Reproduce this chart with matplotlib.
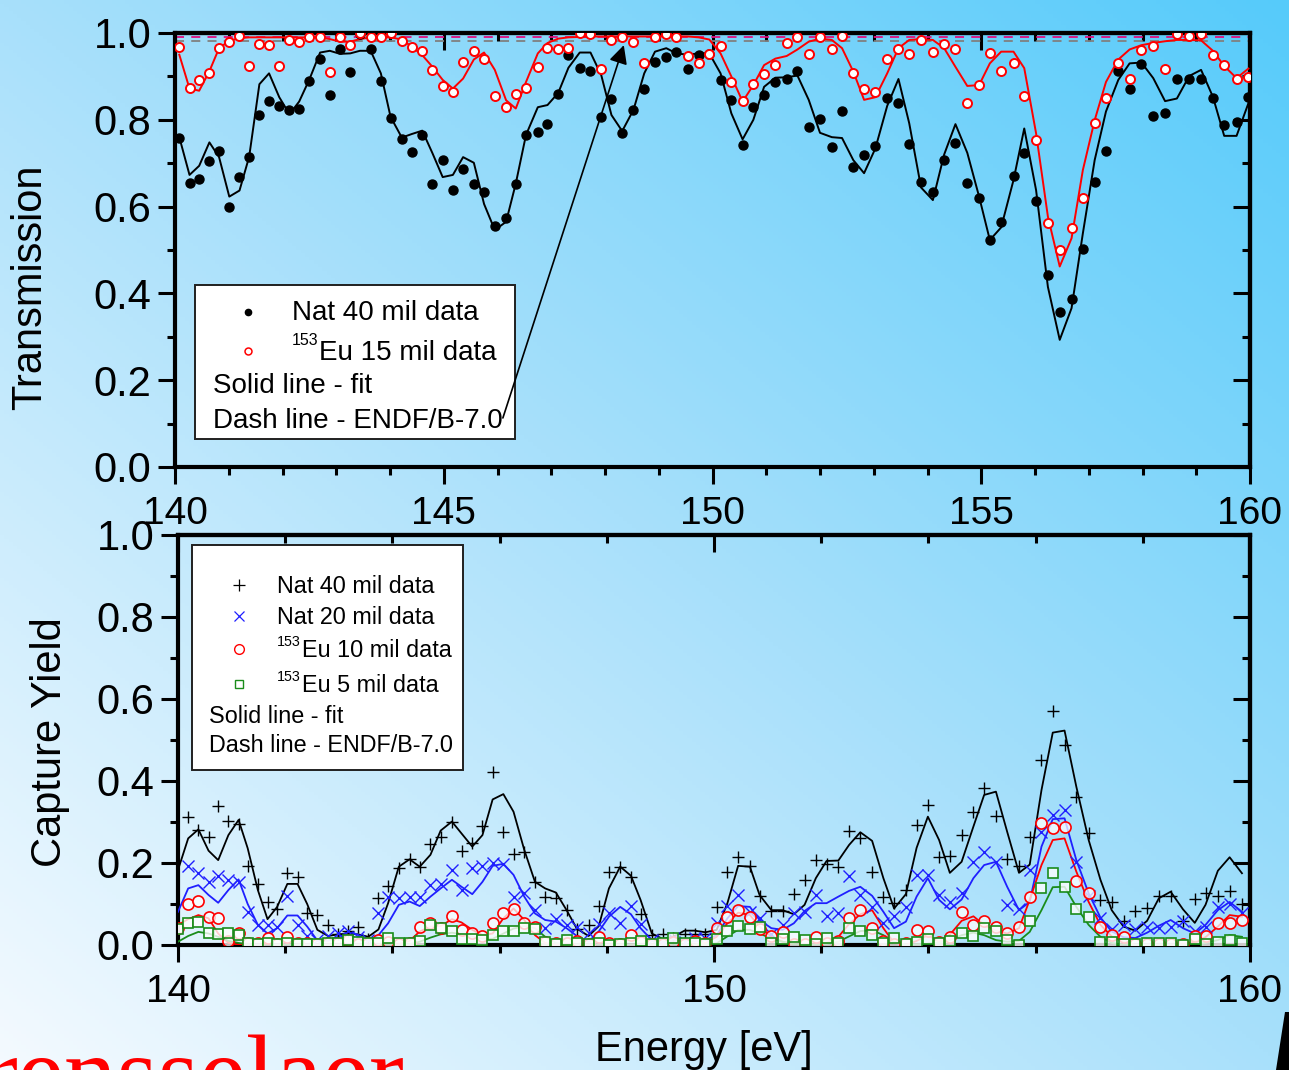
import numpy as np
import matplotlib.pyplot as plt
from matplotlib.colors import LinearSegmentedColormap
from matplotlib.patches import Rectangle, Polygon
from matplotlib.lines import Line2D
from matplotlib.ticker import MultipleLocator

W, H = 1289, 1070
FONT = ["Liberation Sans", "DejaVu Sans"]
plt.rcParams["font.family"] = FONT

# ---------------- transmission (top panel) ----------------
e_trans = [140.08, 140.27, 140.45, 140.64, 140.82, 141.01, 141.20, 141.38, 141.57, 141.75,
           141.94, 142.13, 142.31, 142.50, 142.70, 142.88, 143.07, 143.26, 143.44, 143.64,
           143.83, 144.01, 144.22, 144.40, 144.60, 144.79, 144.98, 145.17, 145.36, 145.56,
           145.75, 145.95, 146.16, 146.34, 146.53, 146.75, 146.93, 147.13, 147.32, 147.53,
           147.73, 147.93, 148.12, 148.32, 148.53, 148.73, 148.93, 149.14, 149.33, 149.54,
           149.74, 149.94, 150.15, 150.35, 150.56, 150.76, 150.96, 151.17, 151.38, 151.58,
           151.79, 152.00, 152.22, 152.41, 152.62, 152.82, 153.03, 153.25, 153.46, 153.66,
           153.88, 154.10, 154.31, 154.52, 154.74, 154.96, 155.16, 155.37, 155.60, 155.80,
           156.02, 156.24, 156.46, 156.68, 156.89, 157.11, 157.32, 157.55, 157.76, 157.98,
           158.20, 158.42, 158.64, 158.87, 159.09, 159.31, 159.52, 159.75, 159.97]

t_nat40 = [0.757, 0.655, 0.663, 0.705, 0.728, 0.600, 0.668, 0.714, 0.810, 0.843,
           0.832, 0.823, 0.825, 0.889, 0.940, 0.856, 0.962, 0.910, 0.998, 0.963,
           0.889, 0.804, 0.755, 0.725, 0.766, 0.652, 0.707, 0.638, 0.686, 0.651,
           0.634, 0.555, 0.574, 0.651, 0.766, 0.773, 0.791, 0.859, 0.949, 0.920,
           0.913, 0.807, 0.848, 0.769, 0.822, 0.871, 0.933, 0.944, 0.956, 0.916,
           0.949, 0.951, 0.892, 0.846, 0.742, 0.829, 0.857, 0.886, 0.893, 0.913,
           0.784, 0.802, 0.737, 0.821, 0.691, 0.720, 0.740, 0.850, 0.839, 0.744,
           0.657, 0.634, 0.707, 0.746, 0.654, 0.619, 0.523, 0.565, 0.671, 0.724,
           0.614, 0.442, 0.357, 0.386, 0.502, 0.656, 0.729, 0.912, 0.870, 0.929,
           0.808, 0.816, 0.894, 0.895, 0.893, 0.850, 0.789, 0.794, 0.853]

t_nat40_fit = [0.760, 0.673, 0.694, 0.748, 0.714, 0.623, 0.637, 0.715, 0.882, 0.907,
               0.852, 0.813, 0.842, 0.893, 0.955, 0.959, 0.952, 0.953, 0.959, 0.959,
               0.907, 0.807, 0.759, 0.767, 0.775, 0.723, 0.668, 0.673, 0.714, 0.701,
               0.606, 0.546, 0.565, 0.653, 0.765, 0.829, 0.834, 0.862, 0.920, 0.955,
               0.955, 0.903, 0.811, 0.774, 0.823, 0.907, 0.957, 0.965, 0.953, 0.950,
               0.953, 0.953, 0.907, 0.815, 0.755, 0.800, 0.876, 0.897, 0.898, 0.902,
               0.846, 0.770, 0.760, 0.758, 0.707, 0.677, 0.734, 0.832, 0.894, 0.792,
               0.644, 0.615, 0.720, 0.790, 0.724, 0.623, 0.523, 0.552, 0.661, 0.780,
               0.638, 0.415, 0.293, 0.366, 0.538, 0.707, 0.819, 0.892, 0.930, 0.932,
               0.896, 0.843, 0.849, 0.901, 0.915, 0.853, 0.763, 0.763, 0.838]

t_eu15 = [0.968, 0.874, 0.892, 0.907, 0.965, 0.979, 0.992, 0.924, 0.974, 0.972,
          0.924, 0.985, 0.980, 0.990, 0.990, 0.909, 0.990, 0.973, 1.000, 0.990,
          0.990, 1.000, 0.982, 0.967, 0.959, 0.915, 0.879, 0.863, 0.934, 0.958,
          0.939, 0.854, 0.829, 0.859, 0.873, 0.921, 0.966, 0.963, 0.966, 0.999,
          0.998, 0.916, 0.985, 0.990, 0.979, 0.930, 0.990, 0.998, 0.990, 0.947,
          0.932, 0.951, 0.969, 0.886, 0.843, 0.882, 0.906, 0.926, 0.978, 0.990,
          0.951, 0.990, 0.963, 0.992, 0.907, 0.872, 0.864, 0.941, 0.963, 0.951,
          0.984, 0.957, 0.975, 0.963, 0.839, 0.880, 0.955, 0.912, 0.932, 0.854,
          0.754, 0.562, 0.500, 0.551, 0.620, 0.793, 0.850, 0.930, 0.894, 0.960,
          0.971, 0.917, 0.998, 0.992, 0.998, 0.949, 0.926, 0.894, 0.898]

t_eu15_fit = [0.950, 0.872, 0.867, 0.912, 0.965, 0.982, 0.988, 0.990, 0.990, 0.990,
              0.990, 0.990, 0.990, 0.990, 0.990, 0.986, 0.980, 0.980, 0.986, 0.990,
              0.990, 0.990, 0.985, 0.969, 0.949, 0.922, 0.892, 0.872, 0.895, 0.939,
              0.955, 0.915, 0.845, 0.826, 0.887, 0.953, 0.977, 0.987, 0.990, 0.991,
              0.992, 0.992, 0.992, 0.992, 0.992, 0.992, 0.992, 0.992, 0.992, 0.992,
              0.990, 0.985, 0.953, 0.900, 0.842, 0.880, 0.926, 0.941, 0.947, 0.962,
              0.980, 0.987, 0.984, 0.965, 0.911, 0.846, 0.852, 0.907, 0.965, 0.984,
              0.986, 0.984, 0.965, 0.922, 0.878, 0.880, 0.930, 0.957, 0.957, 0.919,
              0.769, 0.577, 0.462, 0.527, 0.684, 0.799, 0.887, 0.939, 0.962, 0.972,
              0.977, 0.981, 0.984, 0.984, 0.983, 0.959, 0.924, 0.896, 0.918]

endf_trans_levels = [0.991, 0.981]   # ENDF/B-7.0 curves (flat at this scale)

# ---------------- capture yield (bottom panel) ----------------
e_capt = [140.00, 140.19, 140.38, 140.57, 140.75, 140.94, 141.13, 141.30, 141.49, 141.67,
          141.85, 142.04, 142.23, 142.41, 142.60, 142.80, 142.99, 143.18, 143.36, 143.55,
          143.74, 143.92, 144.12, 144.32, 144.51, 144.71, 144.90, 145.11, 145.29, 145.49,
          145.68, 145.87, 146.07, 146.26, 146.46, 146.66, 146.85, 147.05, 147.25, 147.44,
          147.66, 147.85, 148.04, 148.25, 148.45, 148.63, 148.84, 149.04, 149.24, 149.45,
          149.64, 149.84, 150.05, 150.25, 150.45, 150.67, 150.85, 151.07, 151.28, 151.49,
          151.69, 151.90, 152.10, 152.32, 152.52, 152.73, 152.95, 153.16, 153.36, 153.58,
          153.78, 153.99, 154.20, 154.40, 154.62, 154.84, 155.04, 155.26, 155.47, 155.69,
          155.89, 156.11, 156.32, 156.54, 156.76, 156.99, 157.21, 157.42, 157.64, 157.86,
          158.08, 158.30, 158.52, 158.75, 158.97, 159.17, 159.40, 159.62, 159.85]

nan = np.nan
y_nat40 = [nan, 0.313, 0.280, 0.264, 0.339, 0.302, 0.294, 0.193, 0.148, 0.106,
           0.087, 0.176, 0.167, 0.079, 0.072, 0.049, 0.028, 0.033, 0.045, 0.014,
           0.114, 0.144, 0.187, 0.209, 0.191, 0.246, 0.264, 0.301, 0.230, 0.248,
           0.290, 0.423, 0.276, 0.221, 0.228, 0.154, 0.118, 0.114, 0.086, 0.038,
           0.050, 0.095, 0.177, 0.190, 0.165, 0.076, 0.024, 0.028, 0.016, 0.028,
           0.028, 0.028, 0.093, 0.177, 0.215, 0.193, 0.120, 0.083, 0.083, 0.124,
           0.159, 0.207, 0.198, 0.190, 0.279, 0.260, 0.179, 0.116, 0.102, 0.134,
           0.293, 0.341, 0.215, 0.216, 0.268, 0.325, 0.382, 0.315, 0.210, 0.193,
           0.264, 0.451, 0.571, 0.488, 0.360, 0.272, 0.110, 0.106, 0.059, 0.084,
           0.091, 0.120, 0.120, 0.059, 0.111, 0.128, 0.120, 0.132, 0.100]

y_nat40_fit = [0.183, 0.260, 0.282, 0.230, 0.207, 0.268, 0.305, 0.236, 0.134, 0.063,
               0.093, 0.149, 0.149, 0.100, 0.037, 0.022, 0.026, 0.028, 0.026, 0.020,
               0.038, 0.102, 0.191, 0.209, 0.191, 0.220, 0.279, 0.301, 0.272, 0.240,
               0.268, 0.355, 0.368, 0.325, 0.232, 0.154, 0.138, 0.128, 0.085, 0.040,
               0.022, 0.046, 0.138, 0.191, 0.169, 0.110, 0.028, 0.015, 0.020, 0.035,
               0.035, 0.031, 0.037, 0.102, 0.193, 0.191, 0.122, 0.085, 0.085, 0.075,
               0.098, 0.163, 0.205, 0.206, 0.244, 0.275, 0.254, 0.163, 0.089, 0.124,
               0.237, 0.313, 0.256, 0.176, 0.203, 0.289, 0.366, 0.374, 0.276, 0.176,
               0.196, 0.378, 0.518, 0.523, 0.386, 0.256, 0.159, 0.085, 0.045, 0.035,
               0.059, 0.114, 0.130, 0.087, 0.054, 0.098, 0.181, 0.214, 0.175]

y_nat20 = [nan, 0.193, 0.175, 0.154, 0.168, 0.159, 0.154, 0.081, 0.049, 0.050,
           0.045, 0.120, 0.049, 0.022, 0.012, 0.023, 0.030, 0.033, 0.020, 0.013,
           0.077, 0.118, 0.114, 0.118, 0.117, 0.146, 0.150, 0.183, 0.134, 0.187,
           0.193, 0.199, 0.198, 0.118, 0.126, 0.085, 0.041, 0.063, 0.050, 0.044,
           0.030, 0.052, 0.079, 0.054, 0.095, 0.052, 0.012, 0.008, 0.016, 0.008,
           0.016, 0.016, 0.054, 0.096, 0.122, 0.081, 0.065, 0.026, 0.049, 0.077,
           0.081, 0.122, 0.071, 0.077, 0.168, 0.122, 0.093, 0.054, 0.071, 0.093,
           0.171, 0.171, 0.122, 0.106, 0.126, 0.203, 0.228, 0.203, 0.098, 0.089,
           0.183, 0.276, 0.317, 0.329, 0.203, 0.120, 0.065, 0.040, 0.048, 0.038,
           0.045, 0.041, 0.045, 0.059, 0.035, 0.045, 0.093, 0.101, 0.077]

y_nat20_fit = [0.081, 0.138, 0.146, 0.122, 0.103, 0.134, 0.160, 0.100, 0.049, 0.028,
               0.041, 0.072, 0.072, 0.045, 0.011, 0.010, 0.020, 0.033, 0.025, 0.008,
               0.024, 0.053, 0.098, 0.106, 0.095, 0.118, 0.138, 0.159, 0.142, 0.124,
               0.154, 0.193, 0.198, 0.171, 0.118, 0.077, 0.061, 0.057, 0.041, 0.022,
               0.008, 0.033, 0.069, 0.093, 0.075, 0.041, 0.012, 0.006, 0.010, 0.012,
               0.008, 0.012, 0.024, 0.065, 0.095, 0.093, 0.061, 0.041, 0.037, 0.053,
               0.083, 0.102, 0.102, 0.118, 0.132, 0.142, 0.120, 0.081, 0.041, 0.057,
               0.118, 0.163, 0.110, 0.087, 0.111, 0.163, 0.195, 0.203, 0.142, 0.085,
               0.105, 0.240, 0.307, 0.309, 0.207, 0.126, 0.067, 0.033, 0.019, 0.017,
               0.030, 0.047, 0.061, 0.041, 0.028, 0.049, 0.085, 0.105, 0.081]

y_eu10 = [0.041, 0.100, 0.108, 0.069, 0.067, 0.010, 0.030, 0.004, 0.005, 0.018,
          0.002, 0.020, 0.005, 0.004, 0.003, 0.005, 0.004, 0.011, 0.003, 0.004,
          0.012, 0.008, 0.003, 0.006, 0.045, 0.053, 0.041, 0.071, 0.037, 0.030,
          0.022, 0.053, 0.079, 0.087, 0.054, 0.043, 0.007, 0.004, 0.005, 0.010,
          0.003, 0.019, 0.005, 0.003, 0.024, 0.008, 0.002, 0.003, 0.008, 0.002,
          0.010, 0.004, 0.041, 0.069, 0.085, 0.068, 0.039, 0.022, 0.031, 0.003,
          0.002, 0.019, 0.005, 0.010, 0.067, 0.085, 0.041, 0.010, 0.002, 0.005,
          0.037, 0.035, 0.008, 0.019, 0.081, 0.049, 0.059, 0.043, 0.030, 0.043,
          0.118, 0.297, 0.285, 0.289, 0.157, 0.128, 0.043, 0.024, 0.019, 0.002,
          0.003, 0.002, 0.002, 0.002, 0.021, 0.021, 0.054, 0.054, 0.061]

y_eu10_fit = [0.049, 0.063, 0.073, 0.065, 0.028, 0.005, 0.001, 0.0, 0.0, 0.0,
              0.0, 0.0, 0.0, 0.0, 0.0, 0.0, 0.0, 0.0, 0.0, 0.0,
              0.0, 0.0, 0.002, 0.010, 0.033, 0.045, 0.046, 0.063, 0.055, 0.037,
              0.024, 0.028, 0.065, 0.089, 0.061, 0.024, 0.005, 0.0, 0.0, 0.0,
              0.0, 0.0, 0.0, 0.0, 0.0, 0.0, 0.0, 0.0, 0.0, 0.0,
              0.0, 0.005, 0.020, 0.053, 0.079, 0.073, 0.045, 0.020, 0.008, 0.001,
              0.0, 0.001, 0.005, 0.020, 0.051, 0.075, 0.085, 0.041, 0.005, 0.0,
              0.010, 0.024, 0.008, 0.025, 0.059, 0.070, 0.049, 0.035, 0.028, 0.041,
              0.110, 0.195, 0.256, 0.260, 0.179, 0.105, 0.049, 0.021, 0.008, 0.0,
              0.0, 0.0, 0.0, 0.002, 0.008, 0.019, 0.045, 0.073, 0.069]

y_eu5 = [0.039, 0.054, 0.057, 0.030, 0.028, 0.030, 0.024, 0.005, 0.003, 0.004,
         0.002, 0.005, 0.003, 0.003, 0.003, 0.005, 0.006, 0.011, 0.008, 0.004,
         0.006, 0.016, 0.004, 0.006, 0.010, 0.050, 0.041, 0.033, 0.015, 0.015,
         0.012, 0.024, 0.033, 0.033, 0.041, 0.039, 0.008, 0.003, 0.012, 0.006,
         0.003, 0.006, 0.000, 0.003, 0.006, 0.010, 0.003, 0.004, 0.018, 0.006,
         0.004, 0.003, 0.015, 0.033, 0.047, 0.039, 0.045, 0.006, 0.014, 0.020,
         0.012, 0.003, 0.016, 0.004, 0.042, 0.033, 0.024, 0.004, 0.016, 0.003,
         0.008, 0.014, 0.004, 0.010, 0.030, 0.021, 0.041, 0.035, 0.012, 0.001,
         0.059, 0.138, 0.176, 0.141, 0.087, 0.069, 0.008, 0.008, 0.002, 0.002,
         0.004, 0.006, 0.004, 0.001, 0.015, 0.002, 0.008, 0.012, 0.006]

y_eu5_fit = [0.008, 0.022, 0.032, 0.028, 0.020, 0.010, 0.005, 0.002, 0.0, 0.0,
             0.0, 0.0, 0.0, 0.0, 0.0, 0.0, 0.0, 0.0, 0.0, 0.0,
             0.0, 0.0, 0.0, 0.002, 0.008, 0.018, 0.026, 0.030, 0.026, 0.020,
             0.016, 0.015, 0.028, 0.040, 0.046, 0.041, 0.020, 0.005, 0.0, 0.0,
             0.0, 0.0, 0.0, 0.0, 0.0, 0.0, 0.0, 0.0, 0.0, 0.0,
             0.0, 0.002, 0.004, 0.021, 0.037, 0.037, 0.028, 0.016, 0.008, 0.002,
             0.0, 0.0, 0.002, 0.008, 0.021, 0.034, 0.036, 0.024, 0.008, 0.0,
             0.001, 0.003, 0.006, 0.012, 0.024, 0.030, 0.024, 0.012, 0.008, 0.010,
             0.032, 0.085, 0.141, 0.142, 0.093, 0.049, 0.020, 0.005, 0.0, 0.0,
             0.0, 0.0, 0.0, 0.0, 0.0, 0.005, 0.012, 0.024, 0.020]

RED = "#ff0000"
BLUE = "#1f1fff"
GREEN = "#1a8c1a"


def P(x, y):
    # pixel position -> figure fraction
    return x / W, 1 - y / H


fig = plt.figure(figsize=(W / 100, H / 100), dpi=100)

# background gradient
bg = fig.add_axes([0, 0, 1, 1], zorder=-5)
u = np.linspace(0, 1, 300)[None, :]
v = np.linspace(1, 0, 300)[:, None]
grad = 0.5 * (u + v)
cmap = LinearSegmentedColormap.from_list("bg", ["#f4faff", "#a8e0fb", "#56cbfa"])
bg.imshow(grad, cmap=cmap, aspect="auto", extent=[0, 1, 0, 1], origin="upper")
bg.axis("off")


def style(ax, xmaj, xmin):
    ax.set_facecolor("none")
    for s in ax.spines.values():
        s.set_linewidth(3)
    ax.xaxis.set_major_locator(MultipleLocator(xmaj))
    ax.xaxis.set_minor_locator(MultipleLocator(xmin))
    ax.yaxis.set_major_locator(MultipleLocator(0.2))
    ax.yaxis.set_minor_locator(MultipleLocator(0.1))
    ax.tick_params(which="both", direction="out", width=2.2, top=False, right=False)
    ax.tick_params(which="major", length=12)
    ax.tick_params(which="minor", length=6)
    ax.tick_params(axis="y", labelsize=30, pad=5)
    ax.tick_params(axis="x", labelsize=28, pad=9)
    ax.yaxis.set_major_formatter(plt.FormatStrFormatter("%.1f"))
    top = ax.secondary_xaxis("top")
    top.xaxis.set_major_locator(MultipleLocator(xmaj))
    top.xaxis.set_minor_locator(MultipleLocator(xmin))
    top.tick_params(which="both", direction="in", width=2.2, labeltop=False)
    top.tick_params(which="major", length=12)
    top.tick_params(which="minor", length=6)
    top.spines["top"].set_linewidth(3)
    right = ax.secondary_yaxis("right")
    right.yaxis.set_major_locator(MultipleLocator(0.2))
    right.yaxis.set_minor_locator(MultipleLocator(0.1))
    right.tick_params(which="both", direction="in", width=2.2, labelright=False)
    right.tick_params(which="major", length=12)
    right.tick_params(which="minor", length=6)
    right.spines["right"].set_linewidth(3)


tf = fig.transFigure

# ---------------- top panel ----------------
ax1 = fig.add_axes([175 / W, 1 - 467 / H, 1075 / W, 434 / H])
ax1.set_xlim(140, 160)
ax1.set_ylim(0, 1.0)

ax1.axhline(endf_trans_levels[0], color="#e0107f", lw=1.3, ls=(0, (5, 4)), zorder=2)
ax1.axhline(endf_trans_levels[1], color="#808080", lw=1.3, ls=(0, (5, 4)), zorder=2)
ax1.plot(e_trans, t_nat40_fit, color="black", lw=1.4, zorder=3)
ax1.plot(e_trans, t_eu15_fit, color=RED, lw=1.4, zorder=3)
ax1.plot(e_trans, t_nat40, ls="none", marker="o", ms=6.5, mfc="black", mec="black", zorder=4)
ax1.plot(e_trans, t_eu15, ls="none", marker="o", ms=6.5, mfc="white", mec=RED, mew=1.4, zorder=4)
style(ax1, 5, 1)

# legend box (top)
x0, y0 = P(195, 439)
ax1.add_patch(Rectangle((x0, y0), 320 / W, 154 / H, transform=tf, fc="white",
                        ec="#202020", lw=1.4, zorder=6, clip_on=False))
ax1.add_line(Line2D([P(248, 312)[0]], [P(248, 312)[1]], transform=tf, ls="none",
                    marker="o", ms=4.5, mfc="black", mec="black", zorder=7))
ax1.add_line(Line2D([P(248, 351)[0]], [P(248, 351)[1]], transform=tf, ls="none",
                    marker="o", ms=5, mfc="white", mec=RED, mew=1.1, zorder=7))
ax1.text(*P(292, 320), "Nat 40 mil data", transform=tf, fontsize=20, va="baseline", zorder=7)
ax1.text(*P(292, 345), "153", transform=tf, fontsize=11.5, va="baseline", zorder=7)
ax1.text(*P(319, 360), "Eu 15 mil data", transform=tf, fontsize=20, va="baseline", zorder=7)
ax1.text(*P(213, 393), "Solid line - fit", transform=tf, fontsize=20, va="baseline", zorder=7)
ax1.text(*P(213, 428), "Dash line - ENDF/B-7.0", transform=tf, fontsize=20, va="baseline", zorder=7)

ax1.annotate("", xy=(148.35, 0.972), xytext=(146.10, 0.113),
             arrowprops=dict(arrowstyle="-|>", color="black", lw=1.2,
                             mutation_scale=28, shrinkA=0, shrinkB=0),
             zorder=8)

# ---------------- bottom panel ----------------
ax2 = fig.add_axes([178 / W, 1 - 945 / H, 1072 / W, 410 / H])
ax2.set_xlim(140, 160)
ax2.set_ylim(0, 1.0)

ax2.axhline(0.0, color="black", lw=1.6, ls=(0, (4, 4)), zorder=2)
ax2.axhline(0.0, color="#22c022", lw=1.6, ls=(4, (4, 4)), zorder=2)
ax2.plot(e_capt, y_nat40_fit, color="black", lw=1.3, zorder=3)
ax2.plot(e_capt, y_nat20_fit, color=BLUE, lw=1.3, zorder=3)
ax2.plot(e_capt, y_eu10_fit, color=RED, lw=1.3, zorder=3)
ax2.plot(e_capt, y_eu5_fit, color=GREEN, lw=1.3, zorder=3)
ax2.plot(e_capt, y_nat40, ls="none", marker="+", ms=9, mew=1.0, color="black", zorder=4)
ax2.plot(e_capt, y_nat20, ls="none", marker="x", ms=8.5, mew=1.0, color=BLUE, zorder=4)
ax2.plot(e_capt, y_eu10, ls="none", marker="o", ms=8, mfc=(1, 1, 1, 0.75), mec=RED, mew=1.2, zorder=4)
ax2.plot(e_capt, y_eu5, ls="none", marker="s", ms=7, mfc=(1, 1, 1, 0.8), mec=GREEN, mew=1.2, zorder=4)
style(ax2, 10, 2)

# legend box (bottom)
x0, y0 = P(192, 770)
ax2.add_patch(Rectangle((x0, y0), 271 / W, 225 / H, transform=tf, fc="white",
                        ec="#202020", lw=1.4, zorder=6, clip_on=False))
leg_rows = [("+", dict(ms=8, mew=0.9, color="black"), 585, "Nat 40 mil data", None),
            ("x", dict(ms=7.5, mew=0.9, color=BLUE), 616, "Nat 20 mil data", None),
            ("o", dict(ms=7, mew=1.0, mfc="white", mec=RED), 649, "Eu 10 mil data", "153"),
            ("s", dict(ms=6, mew=1.0, mfc="white", mec=GREEN), 684, "Eu 5 mil data", "153")]
for mk, kw, yy, label, iso in leg_rows:
    mx, my = P(239, yy)
    ax2.add_line(Line2D([mx], [my], transform=tf, ls="none", marker=mk, zorder=7, **kw))
    if iso:
        ax2.text(*P(277, yy - 3), iso, transform=tf, fontsize=10.3, va="baseline", zorder=7)
        ax2.text(*P(302, yy + 8), label, transform=tf, fontsize=16.8, va="baseline", zorder=7)
    else:
        ax2.text(*P(277, yy + 8), label, transform=tf, fontsize=16.8, va="baseline", zorder=7)
ax2.text(*P(209, 723), "Solid line - fit", transform=tf, fontsize=16.8, va="baseline", zorder=7)
ax2.text(*P(209, 752), "Dash line - ENDF/B-7.0", transform=tf, fontsize=16.8,
         va="baseline", zorder=7)

# axis labels
fig.text(*P(30, 287), "Transmission", rotation=90, ha="center", va="center", fontsize=30)
fig.text(*P(50, 742), "Capture Yield", rotation=90, ha="center", va="center", fontsize=30)
fig.text(*P(704, 1061), "Energy [eV]", ha="center", va="baseline", fontsize=30)

# slide decorations: cropped logo text and corner shape
fig.text(*P(405, 1108), "rensselaer", ha="right", va="baseline", fontsize=76,
         family=["Liberation Serif", "DejaVu Serif"], color="red")
fig.add_artist(Polygon([P(1285, 1012), P(1289, 1012), P(1289, 1070), P(1276, 1070)],
                       closed=True, transform=tf, fc="black", ec="none"))

fig.savefig("out.png", dpi=100)
